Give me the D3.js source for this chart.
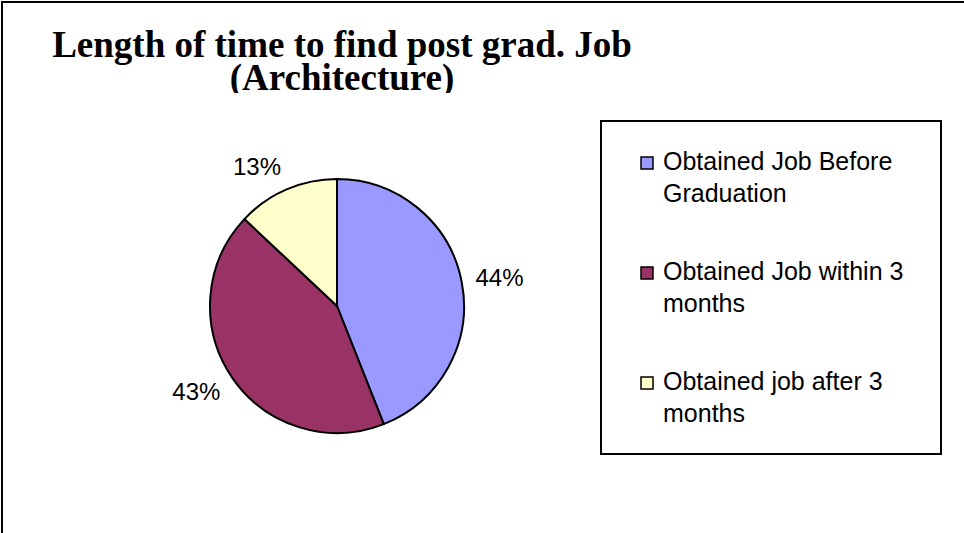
<!DOCTYPE html>
<html>
<head>
<meta charset="utf-8">
<script src="https://cdn.jsdelivr.net/npm/d3@7"></script>
<style>
  html, body { margin: 0; padding: 0; background: #fff; }
  svg { display: block; }
</style>
</head>
<body>
<div id="chart"></div>
<script>
// data
var categories = ["Obtained Job Before Graduation", "Obtained Job within 3 months", "Obtained job after 3 months"];
var legendLines = [["Obtained Job Before", "Graduation"], ["Obtained Job within 3", "months"], ["Obtained job after 3", "months"]];
var values = [44, 43, 13];
var colors = ["#9999FF", "#993366", "#FFFFCC"];
var titleLines = ["Length of time to find post grad. Job", "(Architecture)"];

var W = 964, H = 533;

var svg = d3.select("#chart").append("svg")
    .attr("width", W)
    .attr("height", H);

// outer chart frame (right and bottom run off the page)
svg.append("rect")
    .attr("x", 2).attr("y", 2)
    .attr("width", 1100).attr("height", 700)
    .attr("fill", "#fff")
    .attr("stroke", "#000")
    .attr("stroke-width", 2);

// title, cut at the bottom like in the original
svg.append("clipPath").attr("id", "titleClip")
  .append("rect").attr("x", 0).attr("y", 0).attr("width", W).attr("height", 93);

var title = svg.append("g")
    .attr("clip-path", "url(#titleClip)")
    .attr("text-anchor", "middle")
    .attr("font-family", "'Liberation Serif', 'Times New Roman', serif")
    .attr("font-weight", "bold")
    .attr("font-size", 37);
title.selectAll("text")
    .data(titleLines)
    .enter().append("text")
    .attr("x", 342)
    .attr("y", function(d, i){ return 57 + i * 33; })
    .text(function(d){ return d; });

// pie
var cx = 337, cy = 306, r = 127;

var pie = d3.pie().sort(null).value(function(d){ return d; });
var arcs = pie(values);
var arc = d3.arc().innerRadius(0).outerRadius(r);

var g = svg.append("g").attr("transform", "translate(" + cx + "," + cy + ")");

g.selectAll("path")
    .data(arcs)
    .enter().append("path")
    .attr("d", arc)
    .attr("fill", function(d, i){ return colors[i]; })
    .attr("stroke", "#000")
    .attr("stroke-width", 2)
    .attr("stroke-linejoin", "round");

// percentage labels just outside the slices
var labelR = r + 14;
g.selectAll("text.lbl")
    .data(arcs)
    .enter().append("text")
    .attr("class", "lbl")
    .attr("font-family", "'Liberation Sans', Arial, sans-serif")
    .attr("font-size", 24)
    .attr("fill", "#000")
    .each(function(d){
        var a = (d.startAngle + d.endAngle) / 2;
        var sx = Math.sin(a), sy = -Math.cos(a);
        var w = 48, h = 22;
        d3.select(this)
          .attr("x", labelR * sx + (sx < 0 ? -1 : 1) * w / 2)
          .attr("y", labelR * sy + sy * h / 2)
          .attr("text-anchor", "middle")
          .attr("dominant-baseline", "central");
    })
    .text(function(d){ return d.data + "%"; });

// legend
var lx = 601, ly = 121, lw = 340, lh = 333;
svg.append("rect")
    .attr("x", lx).attr("y", ly)
    .attr("width", lw).attr("height", lh)
    .attr("fill", "#fff")
    .attr("stroke", "#000")
    .attr("stroke-width", 2);

var item = svg.selectAll("g.leg")
    .data(categories)
    .enter().append("g")
    .attr("class", "leg")
    .attr("transform", function(d, i){ return "translate(" + (lx + 40) + "," + (ly + 36 + i * 110) + ")"; });

item.append("rect")
    .attr("x", 0).attr("y", 0)
    .attr("width", 12).attr("height", 12)
    .attr("fill", function(d, i){ return colors[i]; })
    .attr("stroke", "#000")
    .attr("stroke-width", 1.5);

item.append("text")
    .attr("font-family", "'Liberation Sans', Arial, sans-serif")
    .attr("font-size", 25)
    .attr("fill", "#000")
    .selectAll("tspan")
    .data(function(d, i){ return legendLines[i]; })
    .enter().append("tspan")
    .attr("x", 22)
    .attr("y", function(d, j){ return 13 + j * 32; })
    .text(function(d){ return d; });
</script>
</body>
</html>
